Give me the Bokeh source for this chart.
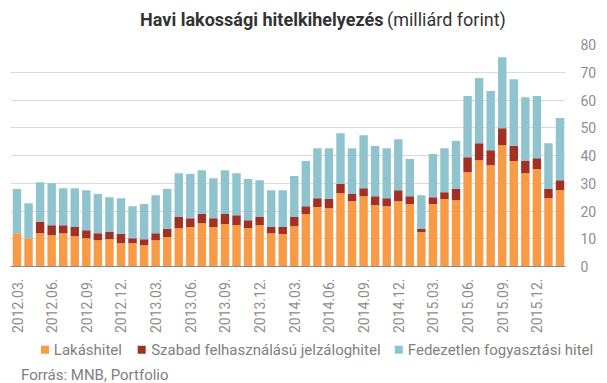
from math import pi
from bokeh.plotting import figure
from bokeh.layouts import column
from bokeh.models import ColumnDataSource, FixedTicker, Range1d
from bokeh.core.properties import value
from bokeh.embed import file_html
from bokeh.resources import INLINE

months = ["2012.03.", "2012.04.", "2012.05.", "2012.06.", "2012.07.", "2012.08.",
          "2012.09.", "2012.10.", "2012.11.", "2012.12.", "2013.01.", "2013.02.",
          "2013.03.", "2013.04.", "2013.05.", "2013.06.", "2013.07.", "2013.08.",
          "2013.09.", "2013.10.", "2013.11.", "2013.12.", "2014.01.", "2014.02.",
          "2014.03.", "2014.04.", "2014.05.", "2014.06.", "2014.07.", "2014.08.",
          "2014.09.", "2014.10.", "2014.11.", "2014.12.", "2015.01.", "2015.02.",
          "2015.03.", "2015.04.", "2015.05.", "2015.06.", "2015.07.", "2015.08.",
          "2015.09.", "2015.10.", "2015.11.", "2015.12.", "2016.01.", "2016.02."]

lakashitel = [12.0, 10.2, 12.0, 11.3, 12.0, 10.9, 10.2, 9.5, 9.8, 8.4, 8.4, 7.7,
              9.5, 10.6, 13.8, 14.2, 15.6, 14.2, 15.3, 14.9, 13.8, 14.9, 12.0, 11.7,
              14.5, 18.9, 21.4, 21.0, 26.4, 23.5, 25.3, 22.1, 21.7, 23.5, 22.5, 12.4,
              22.5, 24.3, 23.9, 34.0, 38.3, 36.5, 43.7, 38.0, 33.6, 35.1, 24.6, 27.5]
szabad = [0.0, 0.0, 4.0, 3.6, 2.9, 3.3, 2.9, 2.5, 2.6, 3.3, 1.8, 2.1,
          2.5, 2.9, 4.0, 3.2, 3.3, 3.2, 3.6, 3.6, 2.9, 2.9, 2.2, 2.5,
          3.3, 2.8, 3.2, 3.3, 3.3, 2.6, 2.9, 3.2, 2.9, 4.0, 2.8, 1.1,
          2.5, 2.5, 4.0, 5.4, 6.1, 5.4, 6.1, 5.4, 4.4, 3.9, 3.3, 3.6]
fedezetlen = [15.9, 12.6, 14.4, 15.1, 13.3, 14.0, 14.4, 14.1, 12.6, 12.9, 11.5, 12.7,
              13.7, 14.4, 15.8, 15.9, 15.8, 14.4, 15.8, 15.1, 14.8, 13.3, 13.3, 13.3,
              14.8, 16.3, 18.0, 18.3, 18.3, 16.5, 19.1, 18.1, 18.0, 18.4, 13.4, 12.2,
              15.5, 15.8, 17.3, 22.0, 23.5, 21.3, 25.6, 24.1, 23.0, 22.4, 16.5, 22.4]

series = ["Lakáshitel", "Szabad felhasználású jelzáloghitel", "Fedezetlen fogyasztási hitel"]
colors = ["#F79B47", "#A23124", "#8FC4CE"]
y_ticks = [0, 10, 20, 30, 40, 50, 60, 70, 80]

title_bold = "Havi lakossági hitelkihelyezés"
title_normal = "(milliárd forint)"
source_note = "Forrás: MNB, Portfolio"

W = 607
TICK_COLOR = "#8e8e8e"
TEXT_COLOR = "#808080"


def blank_figure(height):
    f = figure(frame_width=W, frame_height=height, output_backend="svg",
               toolbar_location=None, x_range=Range1d(0, W), y_range=Range1d(0, height),
               x_axis_type=None, y_axis_type=None, min_border=0,
               min_border_left=0, min_border_right=0, min_border_top=0,
               min_border_bottom=0)
    f.outline_line_color = None
    f.grid.visible = False
    return f


# ---- title strip (page y 0..30) ----
t = blank_figure(30)
t.text(x=[373], y=[11], text=[title_bold], text_align="right", text_baseline="middle",
       text_font=value("Roboto"), text_font_style="bold", text_font_size="18px",
       text_color="#333333")
t.text(x=[376.5], y=[11], text=[title_normal], text_align="left", text_baseline="middle",
       text_font=value("Roboto"), text_font_size="18px", text_color="#333333")

# ---- main chart (page y 30..340) ----
source = ColumnDataSource(dict(x=list(range(len(months))), a=lakashitel, b=szabad, c=fedezetlen))

p = figure(width=W, height=310, output_backend="svg", toolbar_location=None,
           x_range=Range1d(-0.563, len(months) - 1 + 0.476), y_range=Range1d(0, 80),
           y_axis_location="right", min_border_left=10, min_border_right=42,
           min_border_top=14, min_border_bottom=74)
p.outline_line_color = None

renderers = p.vbar_stack(["a", "b", "c"], x="x", width=0.73, source=source,
                         color=colors, line_color=None)

p.xaxis.ticker = FixedTicker(ticks=list(range(0, len(months), 3)))
p.xaxis.major_label_overrides = {i: months[i] for i in range(len(months))}
p.xaxis.major_label_orientation = pi / 2
p.xaxis.major_tick_line_color = None
p.xaxis.minor_tick_line_color = None
p.xaxis.major_tick_out = 0
p.xaxis.minor_tick_out = 0
p.xaxis.major_tick_in = 0
p.xaxis.axis_line_color = "#8a8a8a"
p.xaxis.axis_line_width = 1
p.xaxis.major_label_standoff = 12
p.xaxis.major_label_text_font = "Roboto"
p.xaxis.major_label_text_font_size = "14px"
p.xaxis.major_label_text_color = TICK_COLOR

p.yaxis.ticker = FixedTicker(ticks=y_ticks)
p.yaxis.axis_line_color = None
p.yaxis.major_tick_line_color = None
p.yaxis.minor_tick_line_color = None
p.yaxis.major_tick_out = 0
p.yaxis.minor_tick_out = 0
p.yaxis.major_tick_in = 0
p.yaxis.major_label_standoff = 15
p.yaxis.major_label_text_font = "Roboto"
p.yaxis.major_label_text_font_size = "14px"
p.yaxis.major_label_text_color = TICK_COLOR

p.xgrid.grid_line_color = None
p.ygrid.ticker = FixedTicker(ticks=y_ticks)
p.ygrid.grid_line_color = "#dadada"
p.ygrid.grid_line_width = 1

# ---- footer: legend + source (page y 340..383) ----
f = blank_figure(43)
f.scatter(x=[34.5, 131.2, 388.3], y=[33.8, 33.8, 33.8], marker="square", size=8,
          color=colors, line_color=None)
f.text(x=[43.3, 140.7, 397.3], y=[33.8, 33.8, 33.8], text=series, text_align="left",
       text_baseline="middle", text_font=value("Roboto"), text_font_size="15px",
       text_color=TEXT_COLOR)
f.text(x=[10.5], y=[8.7], text=[source_note], text_align="left", text_baseline="middle",
       text_font=value("Roboto"), text_font_size="15px", text_color=TEXT_COLOR)

layout = column(t, p, f, spacing=0)
open("out.html", "w").write(file_html(layout, INLINE))
